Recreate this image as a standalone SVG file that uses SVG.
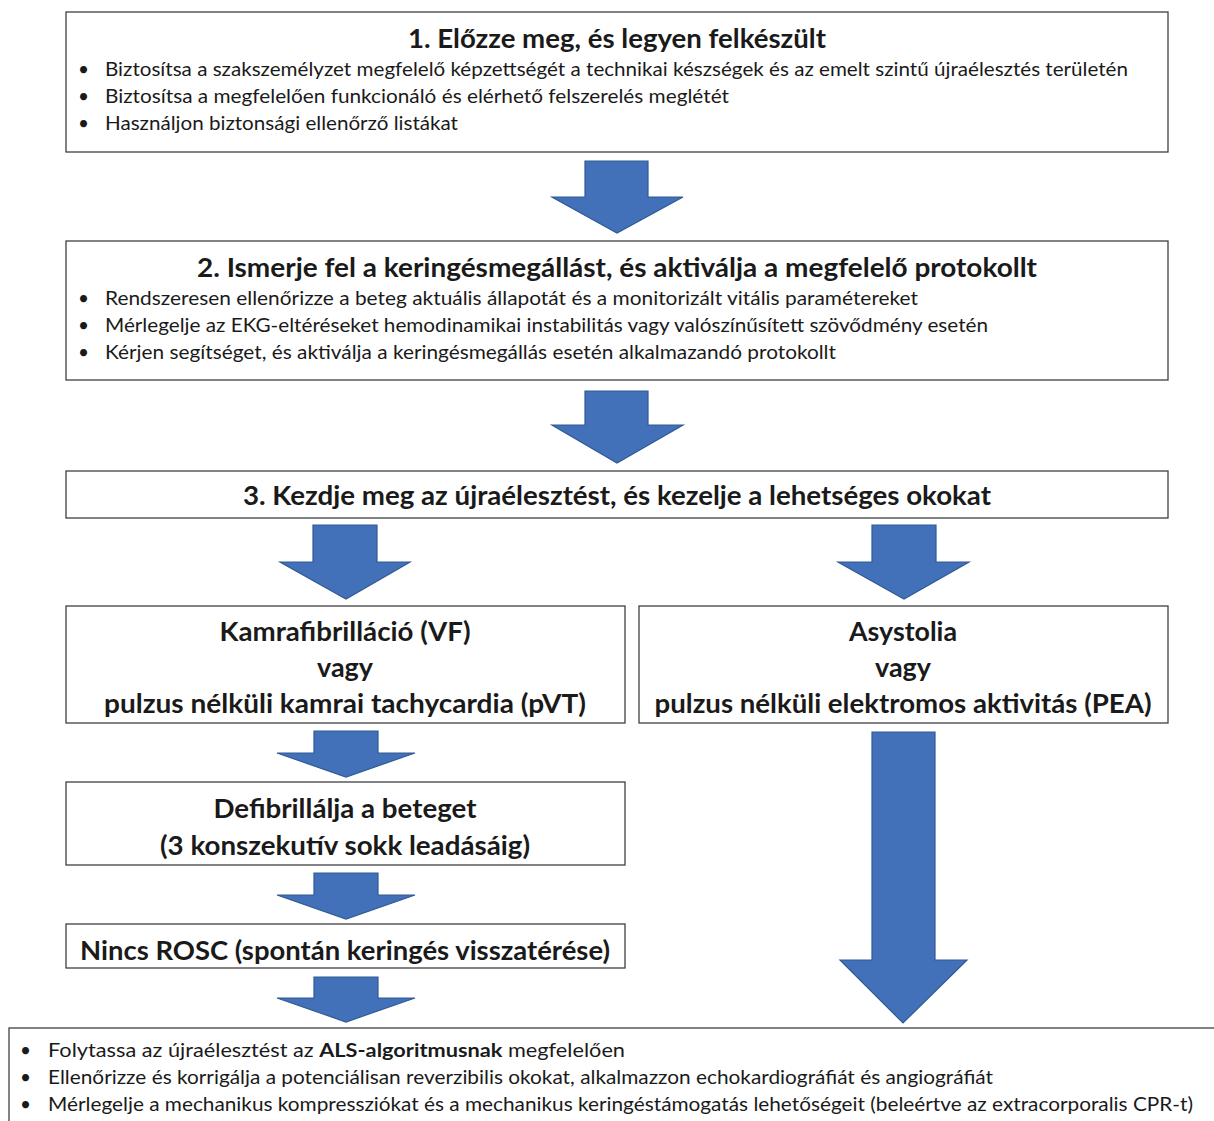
<svg xmlns="http://www.w3.org/2000/svg" width="1214" height="1121" viewBox="0 0 1214 1121">
<style>
.box{fill:#fff;stroke:#404040;stroke-width:1.3}
.arr{fill:#4371B9;stroke:#2F5A94;stroke-width:1.2}
text{font-family:Lato,"Open Sans","Liberation Sans",sans-serif;fill:#1a1a1a}
.t{font-size:26px;font-weight:bold;text-anchor:middle}
.b{font-size:19px}
.d{font-size:19px}
</style>
<rect width="1214" height="1121" fill="#fff"/>
<g id="connectors">
<path class="arr" d="M585,161 H648 V197 H683 L617,233 L552,197 H585 Z"/>
<path class="arr" d="M585,391 H648 V425 H683 L617,463 L552,425 H585 Z"/>
<path class="arr" d="M313,525 H377 V562 H410 L346,599 L280,562 H313 Z"/>
<path class="arr" d="M872,525 H936 V562 H969 L904,599 L838,562 H872 Z"/>
<path class="arr" d="M314,731 H378 V753 H415 L346,777 L277,753 H314 Z"/>
<path class="arr" d="M314,873 H378 V895 H415 L346,919 L277,895 H314 Z"/>
<path class="arr" d="M314,977 H378 V998 H415 L346,1022 L277,998 H314 Z"/>
<path class="arr" d="M872,732 H935 V960 H967 L903,1023 L840,960 H872 Z"/>
</g>
<g id="node1">
<rect class="box" x="66" y="12" width="1102" height="140"/>
<text class="t" x="617" y="48" textLength="418" lengthAdjust="spacingAndGlyphs">1. Előzze meg, és legyen felkészült</text>
<text class="d" x="78" y="76">•</text>
<text class="b" x="105" y="76" textLength="1023" lengthAdjust="spacingAndGlyphs">Biztosítsa a szakszemélyzet megfelelő képzettségét a technikai készségek és az emelt szintű újraélesztés területén</text>
<text class="d" x="78" y="103">•</text>
<text class="b" x="105" y="103" textLength="624" lengthAdjust="spacingAndGlyphs">Biztosítsa a megfelelően funkcionáló és elérhető felszerelés meglétét</text>
<text class="d" x="78" y="130">•</text>
<text class="b" x="105" y="130" textLength="353" lengthAdjust="spacingAndGlyphs">Használjon biztonsági ellenőrző listákat</text>
</g>
<g id="node2">
<rect class="box" x="66" y="241" width="1102" height="139"/>
<text class="t" x="617" y="277" textLength="840" lengthAdjust="spacingAndGlyphs">2. Ismerje fel a keringésmegállást, és aktiválja a megfelelő protokollt</text>
<text class="d" x="78" y="305">•</text>
<text class="b" x="105" y="305" textLength="813" lengthAdjust="spacingAndGlyphs">Rendszeresen ellenőrizze a beteg aktuális állapotát és a monitorizált vitális paramétereket</text>
<text class="d" x="78" y="332">•</text>
<text class="b" x="105" y="332" textLength="883" lengthAdjust="spacingAndGlyphs">Mérlegelje az EKG-eltéréseket hemodinamikai instabilitás vagy valószínűsített szövődmény esetén</text>
<text class="d" x="78" y="359">•</text>
<text class="b" x="105" y="359" textLength="731" lengthAdjust="spacingAndGlyphs">Kérjen segítséget, és aktiválja a keringésmegállás esetén alkalmazandó protokollt</text>
</g>
<g id="node3">
<rect class="box" x="66" y="471" width="1102" height="47"/>
<text class="t" x="617" y="505" textLength="748" lengthAdjust="spacingAndGlyphs">3. Kezdje meg az újraélesztést, és kezelje a lehetséges okokat</text>
</g>
<g id="node-vf">
<rect class="box" x="66" y="606" width="559" height="117"/>
<text class="t" x="345" y="641" textLength="251" lengthAdjust="spacingAndGlyphs">Kamrafibrilláció (VF)</text>
<text class="t" x="345" y="677" textLength="56" lengthAdjust="spacingAndGlyphs">vagy</text>
<text class="t" x="345" y="713" textLength="482" lengthAdjust="spacingAndGlyphs">pulzus nélküli kamrai tachycardia (pVT)</text>
</g>
<g id="node-asys">
<rect class="box" x="639" y="606" width="529" height="117"/>
<text class="t" x="903" y="641" textLength="108" lengthAdjust="spacingAndGlyphs">Asystolia</text>
<text class="t" x="903" y="677" textLength="56" lengthAdjust="spacingAndGlyphs">vagy</text>
<text class="t" x="903" y="713" textLength="497" lengthAdjust="spacingAndGlyphs">pulzus nélküli elektromos aktivitás (PEA)</text>
</g>
<g id="node-defib">
<rect class="box" x="66" y="782" width="559" height="83"/>
<text class="t" x="345" y="818" textLength="263" lengthAdjust="spacingAndGlyphs">Defibrillálja a beteget</text>
<text class="t" x="345" y="855" textLength="370" lengthAdjust="spacingAndGlyphs">(3 konszekutív sokk leadásáig)</text>
</g>
<g id="node-rosc">
<rect class="box" x="66" y="924" width="559" height="44"/>
<text class="t" x="345" y="960" textLength="530" lengthAdjust="spacingAndGlyphs">Nincs ROSC (spontán keringés visszatérése)</text>
</g>
<g id="node-bottom">
<rect class="box" x="9" y="1028" width="1215" height="110"/>
<text class="d" x="20" y="1057">•</text>
<text class="b" x="48" y="1057" textLength="577" lengthAdjust="spacingAndGlyphs">Folytassa az újraélesztést az <tspan font-weight="bold">ALS-algoritmusnak</tspan> megfelelően</text>
<text class="d" x="20" y="1084">•</text>
<text class="b" x="48" y="1084" textLength="945" lengthAdjust="spacingAndGlyphs">Ellenőrizze és korrigálja a potenciálisan reverzibilis okokat, alkalmazzon echokardiográfiát és angiográfiát</text>
<text class="d" x="20" y="1111">•</text>
<text class="b" x="48" y="1111" textLength="1145" lengthAdjust="spacingAndGlyphs">Mérlegelje a mechanikus kompressziókat és a mechanikus keringéstámogatás lehetőségeit (beleértve az extracorporalis CPR-t)</text>
</g>
</svg>
